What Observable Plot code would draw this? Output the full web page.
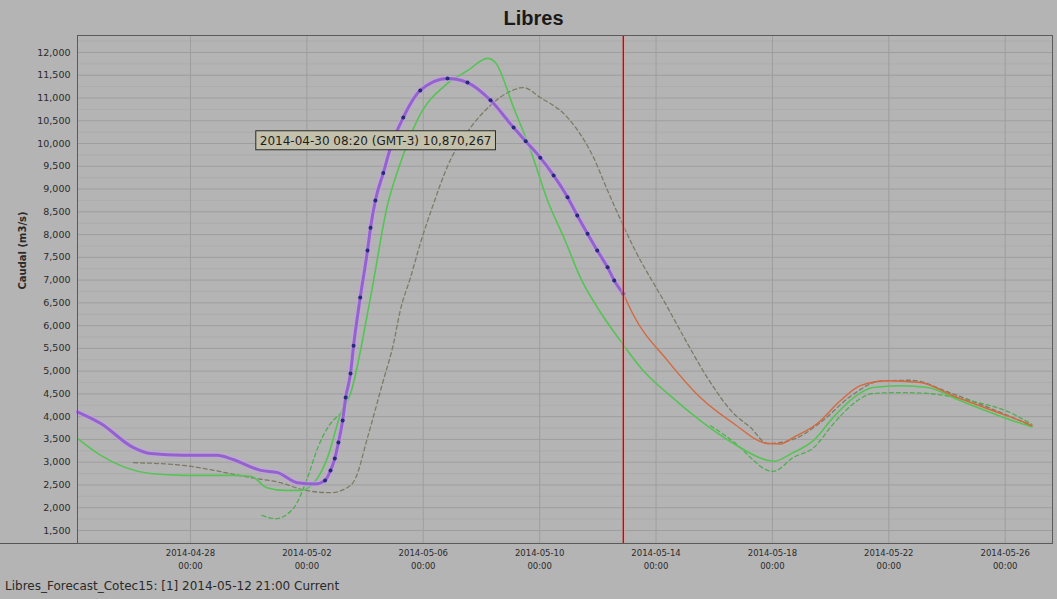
<!DOCTYPE html>
<html>
<head>
<meta charset="utf-8">
<script src="https://cdn.jsdelivr.net/npm/d3@7"></script>
<script src="https://cdn.jsdelivr.net/npm/@observablehq/plot@0.6"></script>
<style>
  html, body { margin: 0; padding: 0; }
  body { width: 1057px; height: 599px; overflow: hidden; background: #b4b4b4; position: relative; font-family: "DejaVu Sans", sans-serif; }
  #title { height: 34px; line-height: 36px; text-align: center; font-family: "Liberation Sans", Arial, sans-serif; font-weight: bold; font-size: 20px; color: #1a1a1a; padding-left: 10px; }
  #chart { height: 545px; }
  #footer { position: absolute; left: 5px; top: 579px; font-family: "DejaVu Sans", sans-serif; font-size: 12px; color: #2a2a2a; }
  #leftline { position: absolute; left: 0; top: 543px; width: 77px; height: 1px; background: #555; }
</style>
</head>
<body>
<div id="title">Libres</div>
<div id="chart"></div>
<div id="leftline"></div>
<div id="footer">Libres_Forecast_Cotec15: [1] 2014-05-12 21:00 Current</div>
<script>
// ---- data ----
const yTicks = [1500, 2000, 2500, 3000, 3500, 4000, 4500, 5000, 5500, 6000, 6500, 7000, 7500, 8000, 8500, 9000, 9500, 10000, 10500, 11000, 11500, 12000];
const yMinorTicks = [1250, 1750, 2250, 2750, 3250, 3750, 4250, 4750, 5250, 5750, 6250, 6750, 7250, 7750, 8250, 8750, 9250, 9750, 10250, 10750, 11250, 11750, 12250];
const xTicks = ["2014-04-28T00:00", "2014-05-02T00:00", "2014-05-06T00:00", "2014-05-10T00:00", "2014-05-14T00:00", "2014-05-18T00:00", "2014-05-22T00:00", "2014-05-26T00:00"];
const xDomain = ["2014-04-24T02:48", "2014-05-27T15:00"];
const yDomain = [1214, 12373];
const currentTime = "2014-05-12T21:00";
const yLabel = "Caudal (m3/s)";

// observed (purple line)
const obsTimes = ["2014-04-24T03:00","2014-04-24T22:00","2014-04-26T01:00","2014-04-26T15:00","2014-04-27T18:00","2014-04-28T22:00","2014-04-29T11:00","2014-04-30T10:00","2014-05-01T00:00","2014-05-01T16:00","2014-05-02T07:00","2014-05-02T15:00","2014-05-02T19:30","2014-05-02T23:00","2014-05-03T02:00","2014-05-03T05:30","2014-05-03T08:00","2014-05-03T12:00","2014-05-03T14:30","2014-05-03T20:00","2014-05-04T02:00","2014-05-04T04:30","2014-05-04T08:30","2014-05-04T15:00","2014-05-04T21:00","2014-05-05T07:30","2014-05-05T21:30","2014-05-06T20:00","2014-05-07T12:30","2014-05-08T07:30","2014-05-09T02:30","2014-05-09T12:30","2014-05-10T00:30","2014-05-10T11:30","2014-05-10T23:00","2014-05-11T07:00","2014-05-11T15:30","2014-05-11T23:30","2014-05-12T08:00","2014-05-12T13:30","2014-05-12T21:00"];
const obsValues = [4100,3850,3320,3190,3150,3150,3060,2820,2770,2550,2520,2600,2820,3080,3430,3915,4420,4950,5560,6620,7650,8150,8750,9350,9910,10570,11165,11430,11340,10950,10350,10050,9690,9300,8820,8420,8020,7650,7280,6990,6700];
const obsDotsFrom = "2014-05-02T15:00";

// current forecast (orange line)
const fcTimes = ["2014-05-12T21:00","2014-05-13T05:00","2014-05-14T09:30","2014-05-15T12:30","2014-05-16T16:00","2014-05-17T20:00","2014-05-18T06:30","2014-05-18T17:00","2014-05-19T13:00","2014-05-20T08:00","2014-05-21T00:30","2014-05-21T23:00","2014-05-23T02:00","2014-05-24T05:00","2014-05-25T14:00","2014-05-26T18:00","2014-05-26T22:00"];
const fcValues = [6700,6250,5230,4420,3850,3410,3400,3540,3850,4350,4680,4790,4750,4460,4130,3850,3800];

// green solid forecast
const greenTimes = ["2014-04-24T03:00","2014-04-24T22:00","2014-04-26T15:00","2014-04-27T18:00","2014-04-29T11:00","2014-04-30T02:00","2014-04-30T15:00","2014-05-01T06:00","2014-05-01T19:00","2014-05-02T09:00","2014-05-02T17:00","2014-05-03T04:00","2014-05-03T12:00","2014-05-04T04:30","2014-05-04T18:30","2014-05-05T05:00","2014-05-05T19:00","2014-05-06T20:00","2014-05-07T12:30","2014-05-08T05:00","2014-05-08T11:30","2014-05-09T02:30","2014-05-09T16:30","2014-05-10T06:30","2014-05-10T21:00","2014-05-11T09:30","2014-05-12T02:00","2014-05-12T18:30","2014-05-13T13:30","2014-05-14T09:30","2014-05-15T12:30","2014-05-16T16:00","2014-05-17T20:00","2014-05-18T01:00","2014-05-18T17:00","2014-05-19T10:00","2014-05-20T02:00","2014-05-20T19:00","2014-05-21T11:00","2014-05-22T09:30","2014-05-23T08:00","2014-05-24T11:00","2014-05-25T14:00","2014-05-26T18:00","2014-05-26T22:00"];
const greenValues = [3520,3150,2750,2710,2710,2690,2440,2380,2380,2660,3100,4070,4510,6620,8650,9560,10510,11320,11600,11870,11780,10790,9850,8750,7870,7060,6300,5670,5010,4510,3915,3410,3040,3020,3210,3480,3980,4420,4640,4680,4640,4350,4070,3810,3780];

// grey dashed forecast
const greyTimes = ["2014-04-26T01:00","2014-04-27T18:00","2014-04-30T02:00","2014-05-01T02:00","2014-05-01T23:00","2014-05-02T19:30","2014-05-03T08:00","2014-05-03T16:00","2014-05-04T02:00","2014-05-04T15:00","2014-05-04T23:30","2014-05-05T05:00","2014-05-05T13:30","2014-05-05T21:30","2014-05-06T08:30","2014-05-06T20:00","2014-05-07T15:00","2014-05-08T07:30","2014-05-09T00:00","2014-05-09T10:30","2014-05-10T00:30","2014-05-10T23:00","2014-05-11T20:30","2014-05-12T08:00","2014-05-13T05:30","2014-05-14T09:30","2014-05-15T02:00","2014-05-15T18:30","2014-05-16T16:00","2014-05-17T06:00","2014-05-17T20:00","2014-05-18T17:00","2014-05-19T15:30","2014-05-20T16:30","2014-05-21T17:00","2014-05-22T18:00","2014-05-24T03:00","2014-05-25T12:00","2014-05-26T22:00"];
const greyValues = [2990,2930,2660,2550,2380,2330,2420,2640,3540,4790,5610,6330,7060,7800,8680,9500,10350,10840,11150,11230,11010,10570,9690,8970,7720,6400,5600,4850,4070,3760,3410,3500,3870,4450,4780,4800,4520,4180,3800];

// green dashed forecast (null = hidden under the solid line)
const gdTimes = ["2014-04-30T11:00","2014-04-30T22:00","2014-05-01T13:00","2014-05-02T00:30","2014-05-02T09:00","2014-05-02T17:00","2014-05-03T04:00","2014-05-09T00:00","2014-05-15T21:00","2014-05-16T21:30","2014-05-17T06:00","2014-05-17T20:00","2014-05-18T01:00","2014-05-18T17:00","2014-05-19T10:00","2014-05-20T02:30","2014-05-20T19:00","2014-05-21T11:00","2014-05-22T09:30","2014-05-23T08:00","2014-05-24T19:00","2014-05-26T04:00","2014-05-26T22:00"];
const gdValues = [1830,1760,1990,2660,3320,3750,4070,null,3800,3320,3100,2820,2800,3100,3320,3850,4290,4510,4530,4510,4350,4090,3830];

// tooltip
const tipTime = "2014-04-30T08:20";
const tipValue = 10870;
const tipLabel = "2014-04-30 08:20 (GMT-3) 10,870,267";

// ---- build ----
const parse = d3.utcParse("%Y-%m-%dT%H:%M");
const series = (times, values) => times.map((t, i) => ({t: parse(t), v: values[i]}));
const obs = series(obsTimes, obsValues);
const fc = series(fcTimes, fcValues);
const green = series(greenTimes, greenValues);
const grey = series(greyTimes, greyValues);
const gd = series(gdTimes, gdValues);
const obsDots = obs.filter(d => d.t >= parse(obsDotsFrom));
const fmtX = d3.utcFormat("%Y-%m-%d\n%H:%M");
const curve = "monotone-x";

const chart = Plot.plot({
  width: 1057,
  height: 545,
  marginTop: 1,
  marginRight: 5,
  marginBottom: 36,
  marginLeft: 77,
  style: {background: "transparent", fontFamily: "'DejaVu Sans', sans-serif", fontSize: "9px", color: "#2a2a2a"},
  x: {type: "utc", domain: xDomain.map(parse)},
  y: {domain: yDomain},
  marks: [
    Plot.ruleY(yMinorTicks, {stroke: "#acacac", strokeWidth: 1}),
    Plot.ruleY(yTicks, {stroke: "#9e9e9e", strokeWidth: 1}),
    Plot.ruleX(xTicks.map(parse), {stroke: "#9e9e9e", strokeWidth: 1}),
    Plot.line(grey, {x: "t", y: "v", curve, stroke: "#7d7b66", strokeWidth: 1.3, strokeDasharray: "4,3"}),
    Plot.line(gd, {x: "t", y: "v", curve, stroke: "#4faf4f", strokeWidth: 1.3, strokeDasharray: "4,3"}),
    Plot.line(green, {x: "t", y: "v", curve, stroke: "#55c455", strokeWidth: 1.6}),
    Plot.line(fc, {x: "t", y: "v", curve, stroke: "#d5683e", strokeWidth: 1.4}),
    Plot.line(obs, {x: "t", y: "v", curve, stroke: "#c8a0e8", strokeWidth: 6, strokeOpacity: 0.5}),
    Plot.line(obs, {x: "t", y: "v", curve, stroke: "#9462cf", strokeWidth: 3}),
    Plot.dot(obsDots, {x: "t", y: "v", r: 2, fill: "#262a78", stroke: "none"}),
    Plot.ruleX([parse(currentTime)], {stroke: "#e79a9a", strokeWidth: 4, strokeOpacity: 0.6}),
    Plot.ruleX([parse(currentTime)], {stroke: "#8f1a1a", strokeWidth: 1.3}),
    Plot.frame({stroke: "#5a5a5a", strokeWidth: 1}),
    Plot.axisY({ticks: yTicks, tickFormat: d3.format(","), tickSize: 0, tickPadding: 7, fontSize: 9.5, label: null}),
    Plot.text([yLabel], {frameAnchor: "left", text: d => d, rotate: -90, dx: -55, fontSize: 10, fontWeight: "bold", fill: "#2a2a2a"}),
    Plot.axisX({ticks: xTicks.map(parse), tickFormat: fmtX, tickSize: 0, tickPadding: 3, lineHeight: 1.55, fontSize: 8.5, label: null}),
    Plot.text([{t: parse(tipTime), v: tipValue, s: tipLabel}], {x: "t", y: "v", text: "s", textAnchor: "start", dx: 1, dy: 37, fontSize: 12, fill: "#1e1e1e", fontFamily: "'DejaVu Sans', sans-serif"})
  ]
});
document.getElementById("chart").appendChild(chart);

// box behind the tooltip text (inside the group so it shares its transform)
const tipGroups = chart.querySelectorAll('g[aria-label="text"]');
const tipG = tipGroups[tipGroups.length - 1];
if (tipG) {
  const bb = tipG.getBBox();
  const rect = document.createElementNS("http://www.w3.org/2000/svg", "rect");
  rect.setAttribute("x", bb.x - 4);
  rect.setAttribute("y", bb.y - 3);
  rect.setAttribute("width", bb.width + 8);
  rect.setAttribute("height", bb.height + 5);
  rect.setAttribute("fill", "#c3c1ac");
  rect.setAttribute("stroke", "#2a2a2a");
  rect.setAttribute("stroke-width", "1");
  tipG.insertBefore(rect, tipG.firstChild);
}
</script>
</body>
</html>
